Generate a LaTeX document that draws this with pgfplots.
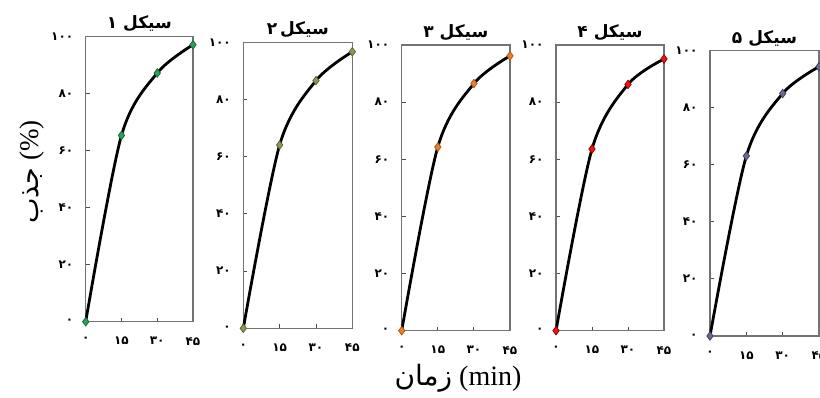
\documentclass[border=0pt]{standalone}
\usepackage{fontspec}
\setmainfont{Liberation Serif}
\newfontfamily\fa[Script=Arabic]{DejaVu Sans}
\TeXXeTstate=1
\usepackage{pgfplots}
\pgfplotsset{compat=1.18}
\definecolor{cA}{HTML}{2FA05C}\definecolor{cAd}{HTML}{1B6B3A}
\definecolor{cB}{HTML}{8A9A55}\definecolor{cBd}{HTML}{5A6A35}
\definecolor{cC}{HTML}{E8822A}\definecolor{cCd}{HTML}{B05A10}
\definecolor{cD}{HTML}{EE1515}\definecolor{cDd}{HTML}{A00000}
\definecolor{cE}{HTML}{6B6B8B}\definecolor{cEd}{HTML}{444466}
\pgfplotsset{
  panel/.style={
    scale only axis, anchor=south west, clip=false,
    xmin=0, xmax=45, ymin=0, ymax=100,
    xtick={0,15,30,45}, xticklabels={۰,۱۵,۳۰,۴۵},
    ytick={0,20,40,60,80,100}, yticklabels={۰,۲۰,۴۰,۶۰,۸۰,۱۰۰},
    tick align=inside, xtick pos=bottom, ytick pos=left,
    major tick length=4pt,
    axis line style={black!55, line width=1.1pt},
    tick style={black!70, line width=0.9pt},
    xticklabel style={font=\fa\bfseries\fontsize{12}{12}\selectfont, yshift=-12pt},
    yticklabel style={font=\fa\bfseries\fontsize{12}{12}\selectfont, xshift=-9pt},
    title style={font=\fa\bfseries\fontsize{17}{17}\selectfont, yshift=-5pt},
  },
  curve/.style={black, line width=2.8pt, smooth, mark=diamond*, mark size=4.2pt},
}
\begin{document}
\begin{tikzpicture}
\begin{axis}[panel, at={(85.7pt,75.3pt)}, width=107.3pt, height=285.2pt,
  title={\beginR سیکل ۱\endR},
  ylabel={{\fa جذب} (\%)},
  ylabel style={at={(axis description cs:-0.50,0.525)}, anchor=center, font=\fontsize{27}{27}\selectfont}]
\addplot[curve, mark options={fill=cA, draw=cAd, line width=0.8pt}] coordinates {(0,0) (15,65.3) (30,87.2) (45,97.1)};
\end{axis}
\begin{axis}[panel, at={(243.3pt,68.7pt)}, width=109pt, height=286pt,
  title={\beginR سیکل\,۲\endR}]
\addplot[curve, mark options={fill=cB, draw=cBd, line width=0.8pt}] coordinates {(0,0) (15,64.1) (30,86.6) (45,96.7)};
\end{axis}
\begin{axis}[panel, at={(401.7pt,66.3pt)}, width=108.3pt, height=285.7pt,
  title={\beginR سیکل ۳\endR},
  xlabel={{\fa زمان} (min)},
  xlabel style={at={(axis description cs:0.52,-0.166)}, anchor=center, font=\fontsize{28}{28}\selectfont}]
\addplot[curve, mark options={fill=cC, draw=cCd, line width=0.8pt}] coordinates {(0,0) (15,64.3) (30,86.5) (45,96.2)};
\end{axis}
\begin{axis}[panel, at={(556pt,66.3pt)}, width=108pt, height=285.7pt,
  title={\beginR سیکل ۴\endR}]
\addplot[curve, mark options={fill=cD, draw=cDd, line width=0.8pt}] coordinates {(0,0) (15,63.6) (30,86.2) (45,95.1)};
\end{axis}
\begin{axis}[panel, at={(710pt,61pt)}, width=109pt, height=285.3pt,
  title={\beginR سیکل ۵\endR}]
\addplot[curve, mark options={fill=cE, draw=cEd, line width=0.8pt}] coordinates {(0,0) (15,63.1) (30,85.0) (45,94.4)};
\end{axis}
\pgfresetboundingbox
\useasboundingbox (0,0) rectangle (820pt,397pt);
\end{tikzpicture}
\end{document}
